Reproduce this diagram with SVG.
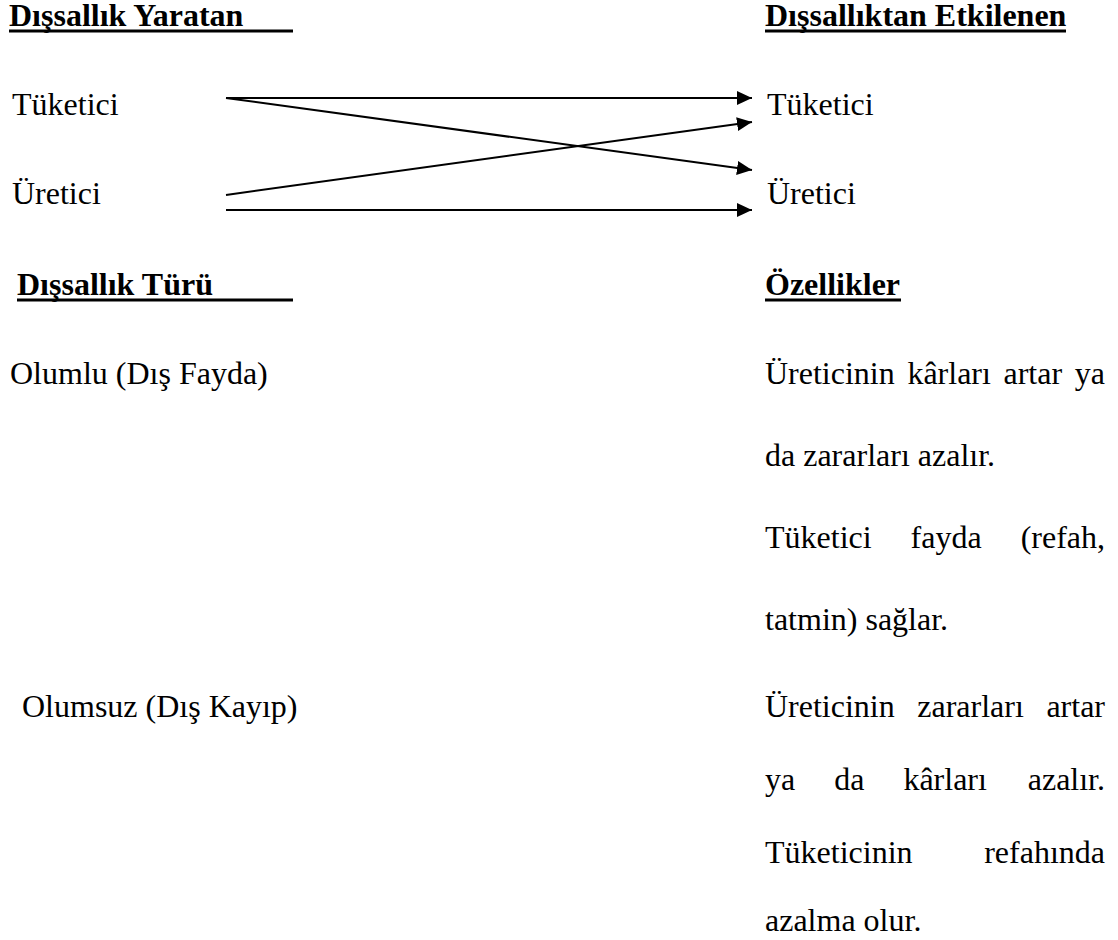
<svg xmlns="http://www.w3.org/2000/svg" width="1118" height="940" viewBox="0 0 1118 940">
<style>
text{font-family:"Liberation Serif","Times New Roman",serif;font-size:32px;fill:#000}
.h{font-weight:bold}
.ul{fill:#000}
.c{stroke:#000;stroke-width:2;fill:none}
</style>
<defs>
<marker id="ah" markerUnits="userSpaceOnUse" markerWidth="16" markerHeight="16" refX="15" refY="7" orient="auto">
<path d="M0,0 L15,7 L0,14 Z" fill="#000"/>
</marker>
</defs>
<rect width="1118" height="940" fill="#fff"/>
<g id="head-yaratan"><text class="h" x="9" y="26">Dışsallık Yaratan</text><rect class="ul" x="9" y="29.5" width="284" height="3"/></g>
<g id="head-etkilenen"><text class="h" x="765" y="26">Dışsallıktan Etkilenen</text><rect class="ul" x="765" y="29.5" width="301" height="3"/></g>
<g id="src-tuketici"><text x="12" y="115">Tüketici</text></g>
<g id="src-uretici"><text x="12" y="204">Üretici</text></g>
<g id="dst-tuketici"><text x="767" y="115">Tüketici</text></g>
<g id="dst-uretici"><text x="767" y="204">Üretici</text></g>
<g id="connectors">
<line class="c" x1="226" y1="98" x2="752" y2="98" marker-end="url(#ah)"/>
<line class="c" x1="226" y1="98" x2="752" y2="170" marker-end="url(#ah)"/>
<line class="c" x1="226" y1="195" x2="752" y2="122" marker-end="url(#ah)"/>
<line class="c" x1="226" y1="210" x2="752" y2="210" marker-end="url(#ah)"/>
</g>
<g id="head-tur"><text class="h" x="17" y="295">Dışsallık Türü</text><rect class="ul" x="17" y="298.5" width="276" height="3"/></g>
<g id="head-ozellik"><text class="h" x="765" y="295">Özellikler</text><rect class="ul" x="765" y="298.5" width="136" height="3"/></g>
<g id="olumlu"><text x="10" y="384">Olumlu (Dış Fayda)</text></g>
<g id="olumsuz"><text x="22" y="717">Olumsuz (Dış Kayıp)</text></g>
<g id="ozellik-olumlu">
<text y="384"><tspan x="765">Üreticinin</tspan><tspan x="907.4">kârları</tspan><tspan x="1003.5">artar</tspan><tspan x="1074.8">ya</tspan></text>
<text x="765" y="466">da zararları azalır.</text>
<text y="548"><tspan x="765">Tüketici</tspan><tspan x="910.6">fayda</tspan></text>
<text x="1105" y="548" text-anchor="end">(refah,</text>
<text x="765" y="630">tatmin) sağlar.</text>
</g>
<g id="ozellik-olumsuz">
<text y="717"><tspan x="765">Üreticinin</tspan><tspan x="917.3">zararları</tspan></text>
<text x="1105" y="717" text-anchor="end">artar</text>
<text y="790"><tspan x="765">ya</tspan><tspan x="834.2">da</tspan><tspan x="903.4">kârları</tspan></text>
<text x="1105" y="790" text-anchor="end">azalır.</text>
<text x="765" y="863">Tüketicinin</text>
<text x="1105" y="863" text-anchor="end">refahında</text>
<text x="765" y="931">azalma olur.</text>
</g>
</svg>
